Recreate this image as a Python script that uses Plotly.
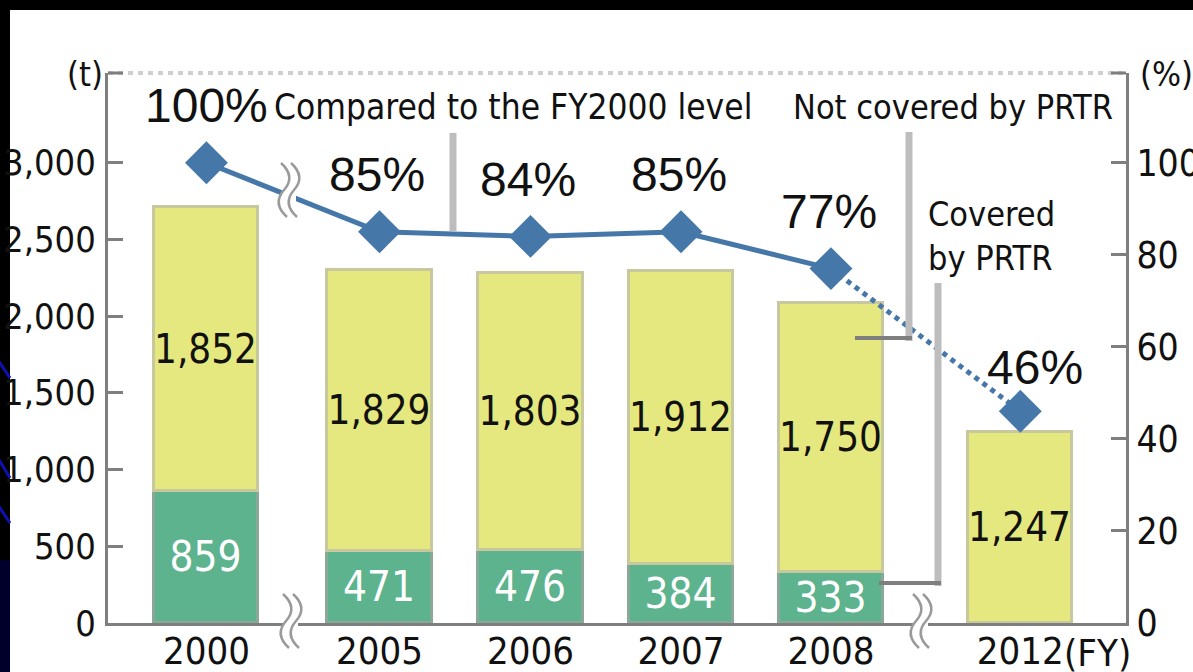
import plotly.graph_objects as go

# ---------------- data ----------------
years = ["2000", "2005", "2006", "2007", "2008", "2012"]
covered_prtr = [859, 471, 476, 384, 333, None]
not_covered_prtr = [1852, 1829, 1803, 1912, 1750, 1247]
pct_vs_2000 = [100, 85, 84, 85, 77, 46]
pct_labels = ["100%", "85%", "84%", "85%", "77%", "46%"]
left_ticks = [0, 500, 1000, 1500, 2000, 2500, 3000]
right_ticks = [0, 20, 40, 60, 80, 100]

# ---------------- layout constants ----------------
W, H = 1193, 672
L, R, T, B = 108, 1126, 73, 623          # plot area in px
x_pos = [0, 1.146, 2.146, 3.143, 4.136, 5.39]
x_range = [-0.652, 6.09]
y_max = 3585
y2_max = y_max / 30.0

COND = "DejaVu Sans Condensed"
NORMAL = "Liberation Sans"
GREEN = "#5db38e"
YELLOW = "#e4e87f"
BLUE = "#4677a9"
AXIS = "#7f7f7f"
LIGHT = "#bdbdbd"
INK = "#111111"


def X(px):
    return (px - L) / (R - L)


def Y(py):
    return (B - py) / (B - T)


fig = go.Figure()

fig.add_trace(go.Bar(
    x=x_pos, y=covered_prtr, width=0.689, name="Covered by PRTR",
    marker=dict(color=GREEN, line=dict(color="#8aa897", width=3)),
    text=[f"{v:,}" if v else "" for v in covered_prtr],
    textposition="inside", insidetextanchor="middle", constraintext="none", textangle=0,
    textfont=dict(family=COND, size=42, color="white"),
    cliponaxis=False, showlegend=False,
))
fig.add_trace(go.Bar(
    x=x_pos, y=not_covered_prtr, width=0.689, name="Not covered by PRTR",
    marker=dict(color=YELLOW, line=dict(color="#c8c89e", width=3)),
    text=[f"{v:,}" for v in not_covered_prtr],
    textposition="inside", insidetextanchor="middle", constraintext="none", textangle=0,
    textfont=dict(family=COND, size=40, color=INK),
    showlegend=False,
))
fig.add_trace(go.Scatter(
    x=x_pos[:5], y=pct_vs_2000[:5], yaxis="y2", mode="lines",
    line=dict(color=BLUE, width=5), showlegend=False,
))
fig.add_trace(go.Scatter(
    x=x_pos[4:], y=pct_vs_2000[4:], yaxis="y2", mode="lines",
    line=dict(color=BLUE, width=5, dash="dot"), showlegend=False,
))
fig.add_trace(go.Scatter(
    x=x_pos, y=pct_vs_2000, yaxis="y2", mode="markers",
    marker=dict(symbol="diamond", size=33, color=BLUE), showlegend=False,
))

shapes = []
shapes.append(dict(type="rect", xref="paper", yref="paper", layer="below",
                   x0=X(10), x1=X(W + 5), y0=Y(H + 5), y1=Y(10),
                   fillcolor="white", line=dict(width=0)))
shapes.append(dict(type="rect", xref="paper", yref="paper", layer="below",
                   x0=X(-5), x1=X(10), y0=Y(H + 5), y1=Y(560),
                   fillcolor="#00002a", line=dict(width=0)))
for (a, b) in [(360, 378), (458, 478), (505, 523)]:
    shapes.append(dict(type="line", xref="paper", yref="paper",
                       x0=X(-2), y0=Y(a), x1=X(10), y1=Y(b),
                       line=dict(color="#1010b0", width=3)))
shapes.append(dict(type="line", xref="paper", yref="paper",
                   x0=X(L), x1=X(R), y0=1, y1=1,
                   line=dict(color="#cfcfcf", width=4, dash="5px,5px")))
shapes.append(dict(type="line", xref="paper", yref="paper",
                   x0=X(L), x1=X(L + 15), y0=1, y1=1,
                   line=dict(color=AXIS, width=3)))
shapes.append(dict(type="line", xref="paper", yref="paper",
                   x0=X(R - 15), x1=X(R), y0=1, y1=1,
                   line=dict(color=AXIS, width=3)))
shapes.append(dict(type="line", xref="paper", yref="paper",
                   x0=X(453), x1=X(453), y0=Y(133), y1=Y(231),
                   line=dict(color=LIGHT, width=7)))
shapes.append(dict(type="line", xref="paper", yref="paper",
                   x0=X(909), x1=X(909), y0=Y(132), y1=Y(341),
                   line=dict(color=LIGHT, width=7)))
shapes.append(dict(type="line", xref="paper", yref="paper",
                   x0=X(855), x1=X(912), y0=Y(338), y1=Y(338),
                   line=dict(color=AXIS, width=4)))
shapes.append(dict(type="line", xref="paper", yref="paper",
                   x0=X(938), x1=X(938), y0=Y(283), y1=Y(586),
                   line=dict(color=LIGHT, width=7)))
shapes.append(dict(type="line", xref="paper", yref="paper",
                   x0=X(879), x1=X(941), y0=Y(583), y1=Y(583),
                   line=dict(color=AXIS, width=4)))


def break_mark(cx, cy, h=27, gap=10):
    out = [dict(type="rect", xref="paper", yref="paper",
                x0=X(cx - 2), x1=X(cx + gap + 2), y0=Y(cy + h - 4), y1=Y(cy - h + 4),
                fillcolor="white", line=dict(width=0))]
    for dx in (0, gap):
        c = cx + dx
        p = (f"M {X(c - 3)},{Y(cy - h)} Q {X(c + 12)},{Y(cy - h / 2)} {X(c)},{Y(cy)} "
             f"Q {X(c - 12)},{Y(cy + h / 2)} {X(c + 3)},{Y(cy + h)}")
        out.append(dict(type="path", xref="paper", yref="paper", path=p,
                        line=dict(color="#9a9a9a", width=2.5)))
    return out


shapes += break_mark(286, 621)
shapes += break_mark(916, 621)
shapes += break_mark(284, 190)

annotations = []
for i, (xv, yv, lab) in enumerate(zip(x_pos, pct_vs_2000, pct_labels)):
    annotations.append(dict(
        x=xv, y=yv, xref="x", yref="y2", text=lab, showarrow=False,
        xshift=15 if i == 5 else (-2 if i else 0), yshift=44 if i == 5 else 57,
        font=dict(family=NORMAL, size=48, color=INK),
    ))


def text_px(px, py, txt, size, anchor="center", family=COND):
    annotations.append(dict(
        x=X(px), y=Y(py), xref="paper", yref="paper", text=txt, showarrow=False,
        xanchor=anchor, yanchor="middle", align="left",
        font=dict(family=family, size=size, color=INK),
    ))


text_px(85, 74, "(t)", 34)
text_px(1138, 74, "(%)", 34, anchor="left")
text_px(513, 107, "Compared to the FY2000 level", 35)
text_px(953, 107, "Not covered by PRTR", 34)
text_px(926, 236, "Covered<br>by PRTR", 34, anchor="left")
text_px(1062, 653, "(FY)", 38, anchor="left")

axis_common = dict(showline=True, linecolor=AXIS, linewidth=3, showgrid=False,
                   zeroline=False, automargin=False)
fig.update_layout(
    width=W, height=H,
    margin=dict(l=L, r=W - R, t=T, b=H - B, pad=0, autoexpand=False),
    paper_bgcolor="black", plot_bgcolor="white",
    barmode="stack", bargap=0,
    shapes=shapes, annotations=annotations,
    xaxis=dict(range=x_range, tickvals=x_pos, ticktext=years[:5] + ["2012"],
               ticks="", ticklabelstandoff=-8,
               tickfont=dict(family=COND, size=38, color=INK), **axis_common),
    yaxis=dict(range=[0, y_max], tickvals=left_ticks, tickformat=",",
               ticks="inside", ticklen=15, tickwidth=3, tickcolor=AXIS,
               ticklabelstandoff=2,
               tickfont=dict(family=COND, size=36, color=INK), **axis_common),
    yaxis2=dict(range=[0, y2_max], tickvals=right_ticks, overlaying="y", side="right",
                ticks="inside", ticklen=15, tickwidth=3, tickcolor=AXIS,
                ticklabelstandoff=0,
                tickfont=dict(family=COND, size=37, color=INK), **axis_common),
)

fig.write_html("out.html")
